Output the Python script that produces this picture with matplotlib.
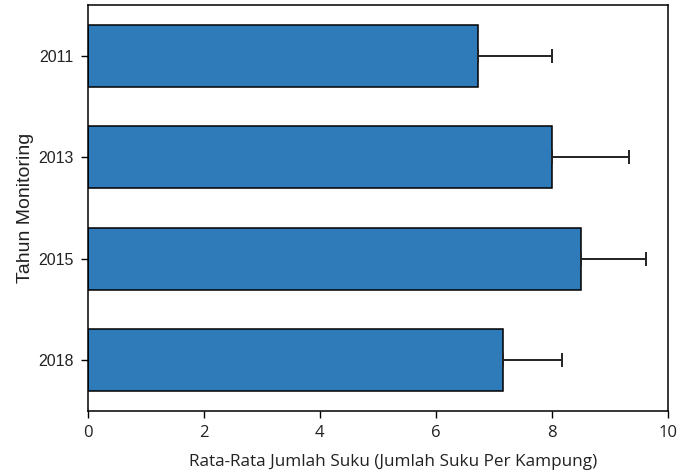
import matplotlib

matplotlib.use("Agg")
import matplotlib.pyplot as plt  # noqa: E402
import numpy as np  # noqa: E402

years = ["2011", "2013", "2015", "2018"]
mean_suku = [6.73, 8.0, 8.5, 7.16]
err_suku = [1.27, 1.33, 1.12, 1.01]
x_ticks = [0, 2, 4, 6, 8, 10]

fig = plt.figure(figsize=(6.9, 4.75), dpi=100)
ax = fig.add_axes([87.5 / 690, 1 - 411 / 475, (668 - 87.5) / 690, (411 - 5) / 475])

pos = np.arange(len(years))
ax.barh(pos, mean_suku, height=0.61, color="#2f7bba", edgecolor="black", linewidth=1.1)
ax.errorbar(
    mean_suku,
    pos,
    xerr=[np.zeros(len(err_suku)), err_suku],
    fmt="none",
    ecolor="#222222",
    elinewidth=1.4,
    capsize=5,
    capthick=1.4,
)

ax.set_xlim(0, 10)
ax.set_ylim(3.5, -0.5)
ax.set_yticks(pos)
ax.set_yticklabels(years, fontsize=11.5, family="Liberation Sans", color="#222222")
ax.set_xticks(x_ticks)
ax.set_xticklabels([str(t) for t in x_ticks], fontsize=12, family="Open Sans", color="#222222")
ax.tick_params(axis="both", direction="out", length=5, width=1, pad=5)
for spine in ax.spines.values():
    spine.set_linewidth(1.1)

ax.set_xlabel("Rata-Rata Jumlah Suku (Jumlah Suku Per Kampung)", fontsize=12.3,
              family="Open Sans", color="#222222")
ax.set_ylabel("Tahun Monitoring", fontsize=14, family="Liberation Sans", color="#222222")
ax.xaxis.set_label_coords(0.526, -43 / 406)
ax.yaxis.set_label_coords(-54 / 580.5, 0.5)

fig.savefig("out.png", dpi=100)
plt.close(fig)
